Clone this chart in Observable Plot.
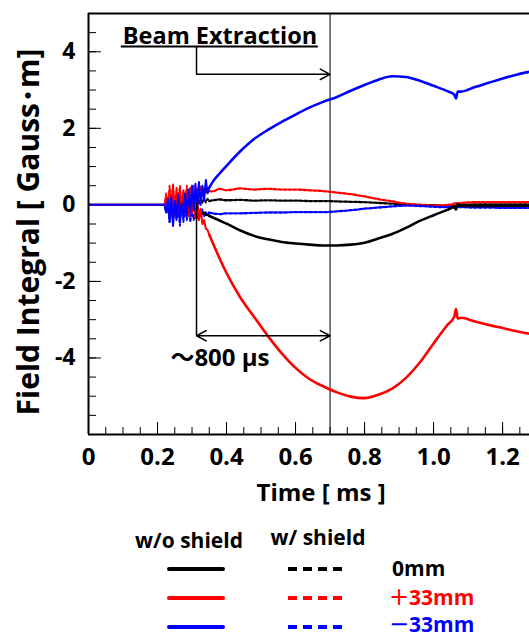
<!DOCTYPE html>
<html><head><meta charset="utf-8">
<script src="https://cdn.jsdelivr.net/npm/d3@7"></script>
<script src="https://cdn.jsdelivr.net/npm/@observablehq/plot@0.6"></script>
<style>
body{margin:0;background:#fff;}
#chart svg,#legend svg{display:block;}
</style></head><body><div id="chart"></div><div id="legend"></div>
<script>
// time grids (ms): noisy start, then smooth part
const noiseTime = [0, 0.22, 0.225, 0.23, 0.235, 0.24, 0.245, 0.25, 0.255, 0.26, 0.265, 0.27, 0.275, 0.28, 0.285, 0.29, 0.295, 0.30, 0.305, 0.31, 0.315, 0.32, 0.325, 0.33, 0.335, 0.34, 0.345, 0.35];
const smoothTime = [0.35, 0.36, 0.38, 0.40, 0.44, 0.48, 0.52, 0.56, 0.60, 0.64, 0.68, 0.72, 0.76, 0.80, 0.84, 0.88, 0.92, 0.96, 1.00, 1.04, 1.06, 1.065, 1.07, 1.08, 1.12, 1.16, 1.20, 1.24, 1.28];

// w/o shield (solid)
const black0Noise = [0, 0, 0.04, -0.06, 0.08, -0.10, 0.05, -0.12, 0.10, -0.05, 0.12, -0.10, 0.06, -0.14, 0.10, -0.08, 0.12, -0.12, 0.05, -0.15, -0.05, -0.22, -0.15, -0.24, -0.20, -0.27, -0.26, -0.29];
const black0 = [-0.29, -0.33, -0.41, -0.49, -0.67, -0.81, -0.90, -0.97, -1.01, -1.04, -1.06, -1.06, -1.04, -0.99, -0.88, -0.76, -0.60, -0.42, -0.27, -0.13, -0.06, -0.12, 0.02, -0.03, -0.03, -0.03, -0.02, -0.02, -0.02];
const redPlusNoise = [0, 0, 0.15, -0.20, 0.35, -0.10, 0.45, -0.30, 0.25, -0.15, 0.40, -0.25, 0.30, -0.10, 0.35, -0.30, 0.20, -0.20, 0.30, -0.35, 0.10, -0.40, -0.10, -0.50, -0.40, -0.62, -0.66, -0.78];
const redPlus = [-0.78, -0.99, -1.40, -1.78, -2.42, -2.93, -3.43, -3.88, -4.26, -4.55, -4.74, -4.90, -5.01, -5.05, -4.96, -4.80, -4.52, -4.12, -3.62, -3.14, -2.92, -2.72, -2.97, -2.95, -3.05, -3.14, -3.22, -3.30, -3.37];
const blueMinusNoise = [0, 0, -0.20, 0.15, -0.45, 0.20, -0.55, 0.10, -0.35, 0.25, -0.40, 0.05, -0.30, 0.30, -0.25, 0.40, -0.20, 0.50, -0.15, 0.55, -0.10, 0.60, 0.00, 0.50, 0.10, 0.65, 0.30, 0.45];
const blueMinus = [0.45, 0.60, 0.82, 1.02, 1.40, 1.72, 1.96, 2.17, 2.36, 2.54, 2.69, 2.82, 2.98, 3.13, 3.27, 3.36, 3.34, 3.24, 3.11, 2.97, 2.88, 2.78, 2.96, 2.96, 3.08, 3.19, 3.30, 3.40, 3.48];

// w/ shield (dashed)
const black0ShNoise = [0, 0, 0.10, -0.15, 0.25, -0.10, 0.20, -0.20, 0.30, -0.05, 0.20, -0.15, 0.25, 0.00, 0.22, -0.10, 0.25, 0.00, 0.20, 0.05, 0.22, 0.02, 0.20, 0.05, 0.18, 0.06, 0.16, 0.10];
const black0Sh = [0.10, 0.12, 0.14, 0.12, 0.13, 0.11, 0.12, 0.11, 0.11, 0.10, 0.10, 0.09, 0.08, 0.07, 0.05, 0.03, 0.01, 0.00, -0.01, -0.02, -0.02, -0.02, -0.01, 0.00, 0.01, 0.01, 0.01, 0.01, 0.01];
const redPlusShNoise = [0, 0, 0.30, -0.05, 0.50, 0.05, 0.55, -0.10, 0.45, 0.15, 0.50, 0.00, 0.40, 0.10, 0.50, 0.20, 0.45, 0.10, 0.50, 0.25, 0.45, 0.20, 0.48, 0.30, 0.45, 0.30, 0.44, 0.36];
const redPlusSh = [0.36, 0.35, 0.42, 0.38, 0.43, 0.40, 0.42, 0.40, 0.40, 0.38, 0.36, 0.32, 0.28, 0.22, 0.15, 0.09, 0.03, 0.00, -0.02, 0.00, 0.03, 0.05, 0.04, 0.05, 0.07, 0.07, 0.07, 0.07, 0.07];
const blueMinusShNoise = [0, 0, -0.20, 0.10, -0.45, -0.05, -0.50, 0.05, -0.40, -0.10, -0.55, 0.00, -0.45, -0.10, -0.40, -0.05, -0.45, -0.15, -0.40, -0.10, -0.35, -0.15, -0.30, -0.12, -0.30, -0.18, -0.28, -0.20];
const blueMinusSh = [-0.20, -0.22, -0.24, -0.22, -0.22, -0.21, -0.20, -0.20, -0.19, -0.19, -0.19, -0.17, -0.14, -0.10, -0.07, -0.04, -0.02, -0.03, -0.05, -0.06, -0.06, -0.07, -0.06, -0.06, -0.07, -0.07, -0.08, -0.08, -0.08];

// axes
const xTicks = [0, 0.2, 0.4, 0.6, 0.8, 1.0, 1.2];
const xTickLabels = ["0", "0.2", "0.4", "0.6", "0.8", "1.0", "1.2"];
const yTicks = [4, 2, 0, -2, -4];
const yTickLabels = ["4", "2", "0", "-2", "-4"];
const xLabel = "Time [ ms ]";
const yLabel = "Field Integral [ Gauss･m]";

// annotations
const extractionTime = 0.7;
const riseStart = 0.313;
const beamText = "Beam Extraction";
const durationText = "～800 μs";

// legend
const legendCols = ["w/o shield", "w/ shield"];
const legendSigns = ["", "+", "−"];
const legendRows = ["0mm", "33mm", "33mm"];
const legendColors = ["#000000", "#ff0000", "#0000ff"];

const FONT = "'Open Sans', 'Noto Sans CJK JP', sans-serif";

const series = [
  {n: black0ShNoise, v: black0Sh, c: "#000000", dash: true},
  {n: redPlusShNoise, v: redPlusSh, c: "#ff0000", dash: true},
  {n: blueMinusShNoise, v: blueMinusSh, c: "#0000ff", dash: true},
  {n: black0Noise, v: black0, c: "#000000", dash: false},
  {n: redPlusNoise, v: redPlus, c: "#ff0000", dash: false},
  {n: blueMinusNoise, v: blueMinus, c: "#0000ff", dash: false}
];

const xMinor = d3.range(0, 1.28, 0.05).map(d => +d.toFixed(2));
const yMinor = d3.range(-6, 5.01, 0.5);
const pxX = 345, pxY = 38.25; // approx px per unit, for tick lengths

const lineMarks = series.flatMap(s => {
  const style = {stroke: s.c, strokeWidth: s.dash ? 2.3 : 2.6, strokeDasharray: s.dash ? "3,2" : null, clip: true};
  return [
    Plot.line(noiseTime, {x: d => d, y: (d, i) => s.n[i], curve: "linear", ...style, strokeWidth: s.dash ? 1.8 : 2}),
    Plot.line(smoothTime, {x: d => d, y: (d, i) => s.v[i], curve: "monotone-x", ...style})
  ];
});

const chart = Plot.plot({
  width: 529, height: 520,
  marginLeft: 88, marginRight: 0, marginTop: 13, marginBottom: 86,
  style: {fontFamily: FONT, fontWeight: "bold", background: "#fff", color: "#000"},
  x: {domain: [0, 1.278]},
  y: {domain: [-6, 5]},
  marks: [
    Plot.ruleX(xMinor, {x: d => d, y1: -6, y2: -6 + 7 / pxY, stroke: "#000", strokeWidth: 1}),
    Plot.ruleX(xTicks, {x: d => d, y1: -6, y2: -6 + 12 / pxY, stroke: "#000", strokeWidth: 1}),
    Plot.ruleY(yMinor, {y: d => d, x1: 0, x2: 8 / pxX, stroke: "#000", strokeWidth: 1}),
    Plot.ruleY(yTicks, {y: d => d, x1: 0, x2: 13 / pxX, stroke: "#000", strokeWidth: 1}),
    Plot.ruleX([extractionTime], {stroke: "#000", strokeWidth: 1}),
    ...lineMarks,
    Plot.ruleX([0], {stroke: "#000", strokeWidth: 2}),
    Plot.ruleY([-6], {stroke: "#000", strokeWidth: 2}),
    Plot.ruleY([5], {stroke: "#000", strokeWidth: 2}),
    Plot.axisX(xTicks, {tickSize: 0, tickPadding: 13, label: null, fontSize: 24, fontWeight: "bold",
      tickFormat: d => xTickLabels[xTicks.indexOf(d)]}),
    Plot.axisY(yTicks, {tickSize: 0, tickPadding: 13, label: null, fontSize: 23, fontWeight: "bold",
      tickFormat: d => yTickLabels[yTicks.indexOf(d)]}),
    Plot.text([xLabel], {x: 0.674, frameAnchor: "bottom", dy: 66, fontSize: 24, fontWeight: "bold", fill: "#000"}),
    Plot.text([yLabel], {frameAnchor: "left", textAnchor: "middle", y: -0.71, dx: -59, rotate: -90, fontSize: 30, fontWeight: "bold", fill: "#000"}),
    Plot.text([beamText], {x: 0.381, y: 4.41, fontSize: 23.5, fontWeight: "bold", fill: "#000"}),
    Plot.ruleY([4.14], {x1: 0.095, x2: 0.666, stroke: "#000", strokeWidth: 2}),
    Plot.ruleX([riseStart], {y1: 4.14, y2: 3.41, stroke: "#000", strokeWidth: 1.5}),
    Plot.arrow([0], {x1: riseStart, y1: 3.41, x2: extractionTime, y2: 3.41, stroke: "#000", strokeWidth: 1.5, headLength: 11, headAngle: 56}),
    Plot.ruleX([riseStart], {y1: 0.05, y2: -3.42, stroke: "#000", strokeWidth: 1.5}),
    Plot.arrow([0], {x1: (riseStart + extractionTime) / 2, y1: -3.42, x2: riseStart, y2: -3.42, stroke: "#000", strokeWidth: 1.5, headLength: 11, headAngle: 56}),
    Plot.arrow([0], {x1: (riseStart + extractionTime) / 2, y1: -3.42, x2: extractionTime, y2: -3.42, stroke: "#000", strokeWidth: 1.5, headLength: 11, headAngle: 56}),
    Plot.text([durationText], {x: 0.381, y: -4.0, fontSize: 24, fontWeight: "bold", fill: "#000"})
  ]
});
document.getElementById("chart").appendChild(chart);

// legend below the chart
const lg = d3.select("#legend").append("svg").attr("width", 529).attr("height", 118)
  .style("font-family", FONT).style("font-weight", "bold");
const colX = [189, 318];
const colY = [28, 25];
legendCols.forEach((t, i) => lg.append("text").attr("x", colX[i]).attr("y", colY[i])
  .attr("text-anchor", "middle").attr("font-size", 21).text(t));
const rowY = [49, 78, 107];
const rowTextY = [56, 85, 112];
legendRows.forEach((t, i) => {
  lg.append("line").attr("x1", 169).attr("x2", 223).attr("y1", rowY[i]).attr("y2", rowY[i])
    .attr("stroke", legendColors[i]).attr("stroke-width", 4).attr("stroke-linecap", "round");
  lg.append("line").attr("x1", 288).attr("x2", 343).attr("y1", rowY[i]).attr("y2", rowY[i])
    .attr("stroke", legendColors[i]).attr("stroke-width", 4).attr("stroke-dasharray", "9,6");
  const tx = lg.append("text").attr("x", legendSigns[i] ? 389 : 392).attr("y", rowTextY[i]).attr("font-size", 21)
    .attr("fill", legendColors[i]);
  if (legendSigns[i]) tx.append("tspan").attr("font-family", "'DejaVu Sans'").attr("font-weight", "normal")
    .attr("font-size", 24).text(legendSigns[i]);
  tx.append("tspan").text(t);
});
</script></body></html>
